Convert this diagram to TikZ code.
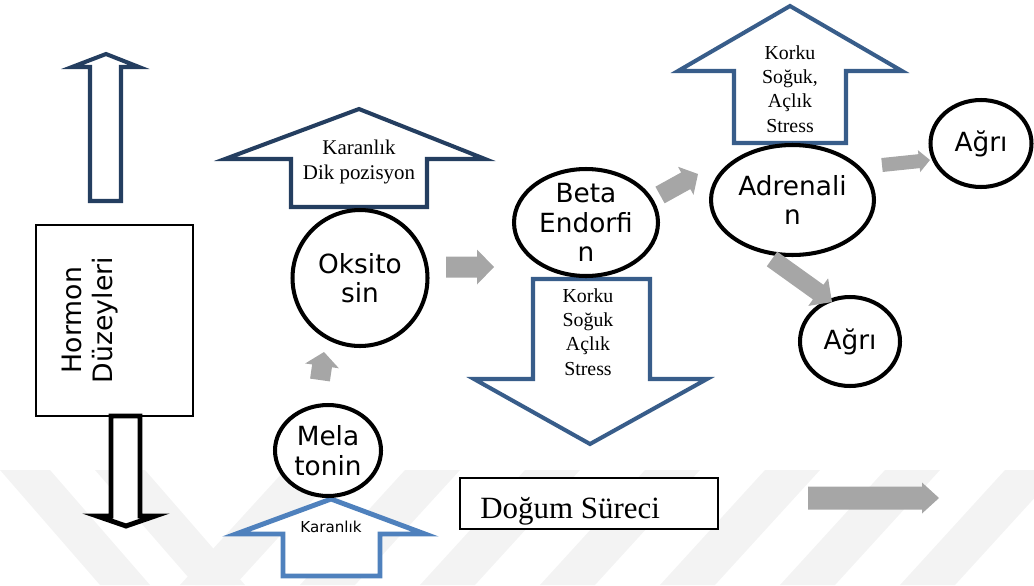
\documentclass[tikz,border=0pt]{standalone}
\usepackage{fontspec}
\setmainfont{Liberation Serif}
\newfontfamily\dv{DejaVu Sans}
\usetikzlibrary{calc,shapes.geometric}
\definecolor{navyA}{RGB}{36,62,96}
\definecolor{navyB}{RGB}{56,93,138}
\definecolor{lblue}{RGB}{79,129,189}
\definecolor{agrey}{RGB}{166,166,166}
\definecolor{wmark}{RGB}{243,243,243}
% grey block arrow: #1 start, #2 end, #3 shaft half width, #4 head half width, #5 head length (px)
\newcommand\garrow[5]{%
  \pgfmathsetlengthmacro\gw{#3*0.02cm}%
  \pgfmathsetlengthmacro\gh{#4*0.02cm}%
  \pgfmathsetlengthmacro\gl{#5*0.02cm}%
  \coordinate (gb) at ($(#2)!\gl!(#1)$);
  \fill[agrey] ($(#1)!\gw!90:(#2)$) -- ($(gb)!\gw!90:(#2)$) -- ($(gb)!\gh!90:(#2)$) -- (#2)
    -- ($(gb)!\gh!-90:(#2)$) -- ($(gb)!\gw!-90:(#2)$) -- ($(#1)!\gw!-90:(#2)$) -- cycle;
}
\tikzset{
  bub/.style={draw=black, line width=2.3pt, ellipse, inner sep=0pt, fill=white},
  stxt/.style={font=\dv\fontsize{15}{16.8}\selectfont, align=center, inner sep=0pt},
  rtxt/.style={font=\fontsize{11.9}{13.8}\selectfont, align=center, inner sep=0pt},
  ktxt/.style={font=\fontsize{11.3}{13.8}\selectfont, align=center, inner sep=0pt},
  navyarrow/.style={line width=2.3pt, fill=white, line join=miter, miter limit=20},
}
\begin{document}
\begin{tikzpicture}[x=0.02cm,y=-0.02cm]
\useasboundingbox (0,0) rectangle (1034,585);
% watermark stripes
\foreach \s in {0,95} {
  \fill[wmark] (\s,470) -- (\s+50,470) -- (\s+150,585) -- (\s+100,585) -- cycle;
}
\foreach \s in {180,300,420,540,660,780,900} {
  \fill[wmark] (\s,585) -- (\s+55,585) -- (\s+160,470) -- (\s+105,470) -- cycle;
}

% Hormon box and arrows
\node[draw=black, line width=0.6pt, minimum width=3.14cm, minimum height=3.82cm, inner sep=0pt] (hormon) at (114.5,320.5) {};
\node[stxt, rotate=90, font=\dv\fontsize{15.2}{17.2}\selectfont] (hormontxt) at (90,320) {Hormon\\Düzeyleri};
\draw[navyarrow, draw=navyA] (90,201) -- (90,67) -- (72,67) -- (106,54) -- (139,67) -- (121,67) -- (121,201) -- cycle;
\draw[navyarrow, draw=black, line width=2.8pt] (111,416) -- (140,416) -- (140,516) -- (155,516) -- (126,526) -- (97,516) -- (111,516) -- cycle;

% Karanlik Dik pozisyon arrow
\draw[navyarrow, draw=navyA] (291,207) -- (291,159) -- (225,159) -- (359,109) -- (485,159) -- (427,159) -- (427,207) -- cycle;
\node[rtxt] (karDik) at (359,162) {Karanlık\\Dik pozisyon};

% Beta down arrow
\draw[navyarrow, draw=navyB] (533,279) -- (650,279) -- (650,379) -- (707,379) -- (590,444) -- (474,379) -- (533,379) -- cycle;
\node[ktxt] (betaK) at (588,332) {Korku\\Soğuk\\Açlık\\Stress};

% Adrenalin up arrow
\draw[navyarrow, draw=navyB] (734,143) -- (734,71) -- (678,71) -- (790,6) -- (902,71) -- (846,71) -- (846,143) -- cycle;
\node[ktxt] (adrK) at (790,89) {Korku\\Soğuk,\\Açlık\\Stress};

% Melatonin bottom arrow
\draw[navyarrow, draw=lblue, line width=2.8pt] (283,576) -- (283,534) -- (236,534) -- (331,499) -- (425,534) -- (380,534) -- (380,576) -- cycle;
\node[font=\dv\fontsize{8.6}{10}\selectfont, inner sep=0pt] (karB) at (331,527) {Karanlık};

% bubbles
\node[bub, minimum width=2.7cm, minimum height=2.72cm] (oks) at (360,278) {};
\node[stxt] (oksT) at (oks) {Oksito\\sin};
\node[bub, minimum width=2.12cm, minimum height=1.82cm] (mel) at (328,450.5) {};
\node[stxt] (melT) at (mel) {Mela\\tonin};
\node[bub, minimum width=2.88cm, minimum height=2.14cm] (beta) at (586,222.5) {};
\node[stxt] (betaT) at (beta) {Beta\\Endorfi\\n};
\node[bub, minimum width=3.26cm, minimum height=2.2cm] (adr) at (792.5,200) {};
\node[stxt] (adrT) at (adr) {Adrenali\\n};
\node[bub, minimum width=2.02cm, minimum height=1.74cm] (agri1) at (981,143.5) {};
\node[stxt] (agri1T) at (agri1) {Ağrı};
\node[bub, minimum width=2cm, minimum height=1.78cm] (agri2) at (850,341.5) {};
\node[stxt] (agri2T) at (agri2) {Ağrı};

% Dogum sureci
\node[draw=black, line width=0.8pt, minimum width=5.16cm, minimum height=1.02cm, inner sep=0pt, fill=white] (dogum) at (589,503.5) {};
\node[font=\fontsize{17.6}{20}\selectfont, inner sep=0pt, anchor=base west] (dogumT) at (480,518) {Doğum Süreci};

% grey arrows
\coordinate (g1a) at (320,380); \coordinate (g1b) at (324,352);
\garrow{g1a}{g1b}{10}{17}{14}
\coordinate (g2a) at (446,267); \coordinate (g2b) at (494,267);
\garrow{g2a}{g2b}{10.5}{17.5}{17}
\coordinate (g3a) at (660,195); \coordinate (g3b) at (698,174);
\garrow{g3a}{g3b}{9.5}{16}{14}
\coordinate (g4a) at (882,165); \coordinate (g4b) at (930,160);
\garrow{g4a}{g4b}{7}{11}{11}
\coordinate (g5a) at (772,259); \coordinate (g5b) at (832,302);
\garrow{g5a}{g5b}{9}{17}{17}
\coordinate (g6a) at (808,498); \coordinate (g6b) at (939,498);
\garrow{g6a}{g6b}{11.5}{15.5}{17}
\end{tikzpicture}
\end{document}
